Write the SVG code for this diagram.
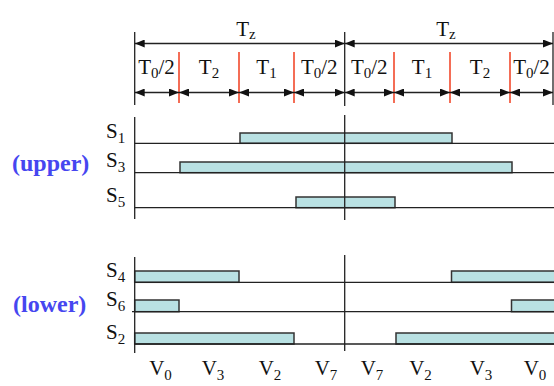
<svg xmlns="http://www.w3.org/2000/svg" width="554" height="386" viewBox="0 0 554 386">
<style>
.t{font-family:"Liberation Serif","Times New Roman",serif;font-size:21px;fill:#111;}
.s{font-family:"Liberation Serif","Times New Roman",serif;font-size:21px;fill:#111;}
.sub{font-size:15px;}
.lab{font-family:"Liberation Serif","Times New Roman",serif;font-size:24px;font-weight:bold;fill:#4646f0;}
.ln{stroke:#222;stroke-width:1.3;fill:none;}
.red{stroke:#f03c1e;stroke-width:1.5;fill:none;}
.arr{stroke:#222;stroke-width:1.3;fill:none;marker-start:url(#ah);marker-end:url(#ah);}
.bar{fill:#b9e1e3;stroke:#333;stroke-width:1.5;}
</style>
<defs>
<marker id="ah" markerUnits="userSpaceOnUse" markerWidth="10" markerHeight="8" refX="10" refY="4" orient="auto-start-reverse">
<path d="M0,0 L10,4 L0,8 z" fill="#111"/>
</marker>
</defs>
<rect width="554" height="386" fill="#fff"/>

<g id="timing-header">
<line class="ln" x1="134.7" y1="32" x2="134.7" y2="105"/>
<line class="ln" x1="344.7" y1="32" x2="344.7" y2="106"/>
<line class="ln" x1="553" y1="32" x2="553" y2="105"/>
<line class="red" x1="179" y1="52" x2="179" y2="103"/>
<line class="red" x1="239" y1="52" x2="239" y2="103"/>
<line class="red" x1="294" y1="52" x2="294" y2="103"/>
<line class="red" x1="394" y1="52" x2="394" y2="103"/>
<line class="red" x1="450" y1="52" x2="450" y2="103"/>
<line class="red" x1="510" y1="52" x2="510" y2="103"/>
<text class="t" x="246" y="36" text-anchor="middle">T<tspan class="sub" dy="3">z</tspan></text>
<text class="t" x="446" y="36" text-anchor="middle">T<tspan class="sub" dy="3">z</tspan></text>
<text class="t" x="156.5" y="74" text-anchor="middle">T<tspan class="sub" dy="4">0</tspan><tspan dy="-4">/2</tspan></text>
<text class="t" x="209" y="74" text-anchor="middle">T<tspan class="sub" dy="4">2</tspan></text>
<text class="t" x="266.5" y="74" text-anchor="middle">T<tspan class="sub" dy="4">1</tspan></text>
<text class="t" x="319.3" y="74" text-anchor="middle">T<tspan class="sub" dy="4">0</tspan><tspan dy="-4">/2</tspan></text>
<text class="t" x="369.3" y="74" text-anchor="middle">T<tspan class="sub" dy="4">0</tspan><tspan dy="-4">/2</tspan></text>
<text class="t" x="422" y="74" text-anchor="middle">T<tspan class="sub" dy="4">1</tspan></text>
<text class="t" x="480" y="74" text-anchor="middle">T<tspan class="sub" dy="4">2</tspan></text>
<text class="t" x="531.5" y="74" text-anchor="middle">T<tspan class="sub" dy="4">0</tspan><tspan dy="-4">/2</tspan></text>
</g>

<g id="connectors">
<line class="arr" x1="134.7" y1="43.5" x2="344.7" y2="43.5"/>
<line class="arr" x1="344.7" y1="43.5" x2="553" y2="43.5"/>
<line class="arr" x1="134.7" y1="92.5" x2="179" y2="92.5"/>
<line class="arr" x1="179" y1="92.5" x2="239" y2="92.5"/>
<line class="arr" x1="239" y1="92.5" x2="294" y2="92.5"/>
<line class="arr" x1="294" y1="92.5" x2="344.7" y2="92.5"/>
<line class="arr" x1="344.7" y1="92.5" x2="394" y2="92.5"/>
<line class="arr" x1="394" y1="92.5" x2="450" y2="92.5"/>
<line class="arr" x1="450" y1="92.5" x2="510" y2="92.5"/>
<line class="arr" x1="510" y1="92.5" x2="553" y2="92.5"/>
</g>

<g id="upper-switches">
<rect class="bar" x="240" y="133" width="212" height="10.3"/>
<rect class="bar" x="180" y="162" width="332" height="10.7"/>
<rect class="bar" x="296" y="197" width="99" height="10.7"/>
<line class="ln" x1="134.7" y1="117" x2="134.7" y2="219"/>
<line class="ln" x1="344.7" y1="115" x2="344.7" y2="220"/>
<line class="ln" x1="134.7" y1="143.3" x2="554" y2="143.3"/>
<line class="ln" x1="134.7" y1="172.7" x2="554" y2="172.7"/>
<line class="ln" x1="134.7" y1="207.7" x2="554" y2="207.7"/>
<text class="s" x="106" y="138">S<tspan class="sub" dy="5">1</tspan></text>
<text class="s" x="106" y="167.3">S<tspan class="sub" dy="5">3</tspan></text>
<text class="s" x="106" y="202.3">S<tspan class="sub" dy="5">5</tspan></text>
<text class="lab" x="12" y="171">(upper)</text>
</g>

<g id="lower-switches">
<rect class="bar" x="134.7" y="271" width="104.3" height="11.3"/>
<rect class="bar" x="451.5" y="271" width="110" height="11.3"/>
<rect class="bar" x="134.7" y="300" width="44.3" height="11.7"/>
<rect class="bar" x="511.5" y="300" width="50" height="11.7"/>
<rect class="bar" x="134.7" y="333" width="159.3" height="11"/>
<rect class="bar" x="396" y="333" width="170" height="11"/>
<line class="ln" x1="134.7" y1="257" x2="134.7" y2="353"/>
<line class="ln" x1="344.7" y1="255" x2="344.7" y2="351"/>
<line class="ln" x1="134.7" y1="282.3" x2="554" y2="282.3"/>
<line class="ln" x1="132" y1="311.7" x2="554" y2="311.7"/>
<line class="ln" x1="134.7" y1="344" x2="554" y2="344"/>
<text class="s" x="106" y="277">S<tspan class="sub" dy="5">4</tspan></text>
<text class="s" x="106" y="306.3">S<tspan class="sub" dy="5">6</tspan></text>
<text class="s" x="106" y="338.7">S<tspan class="sub" dy="5">2</tspan></text>
<text class="lab" x="13" y="312">(lower)</text>
</g>

<g id="vectors">
<text class="s" x="160.5" y="375" text-anchor="middle">V<tspan class="sub" dy="5">0</tspan></text>
<text class="s" x="213" y="375" text-anchor="middle">V<tspan class="sub" dy="5">3</tspan></text>
<text class="s" x="270" y="375" text-anchor="middle">V<tspan class="sub" dy="5">2</tspan></text>
<text class="s" x="326" y="375" text-anchor="middle">V<tspan class="sub" dy="5">7</tspan></text>
<text class="s" x="372" y="375" text-anchor="middle">V<tspan class="sub" dy="5">7</tspan></text>
<text class="s" x="420.5" y="375" text-anchor="middle">V<tspan class="sub" dy="5">2</tspan></text>
<text class="s" x="481" y="375" text-anchor="middle">V<tspan class="sub" dy="5">3</tspan></text>
<text class="s" x="535" y="375" text-anchor="middle">V<tspan class="sub" dy="5">0</tspan></text>
</g>
</svg>
